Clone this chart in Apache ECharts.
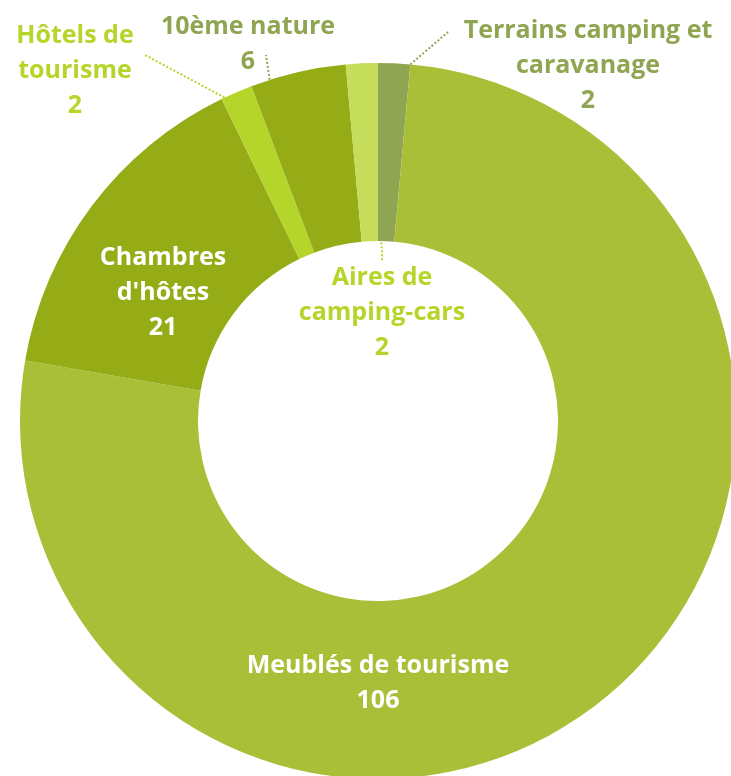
<!DOCTYPE html>
<html lang="fr">
<head>
<meta charset="utf-8" />
<title>Hébergements</title>
<script src="https://cdn.jsdelivr.net/npm/echarts@6/dist/echarts.min.js"></script>
<style>
  html, body { margin: 0; padding: 0; background: #fff; }
  #main { width: 731px; height: 776px; }
</style>
</head>
<body>
<div id="main"></div>
<script>
    // données, dans l'ordre horaire depuis midi
    var categories = ['Terrains camping et\ncaravanage', 'Meublés de tourisme', "Chambres\nd'hôtes", 'Hôtels de\ntourisme', '10ème nature', 'Aires de\ncamping-cars'];
    var values = [2, 106, 21, 2, 6, 2];

    var colors = ['#8fa551', '#a9bf37', '#95ac16', '#b6d52a', '#95ac16', '#c5dd5a'];
    var labelColors = ['#8fa551', '#ffffff', '#ffffff', '#b6d52a', '#8fa551', '#b6d52a'];
    var insideLabel = [false, true, true, false, false, false];

    // géométrie de l'anneau
    var cx = 378, cy = 421, rIn = 180, rOut = 358;

    // placement des étiquettes (centre du bloc de texte) et lignes de rappel
    var labelPos = [[588, 66], [378, 683], [163, 293], [75, 71], [248, 44], [382, 313]];
    var leaderFrom = [1, null, null, 0.1, 0.2, null];   // position le long de l'arc extérieur de la part
    var leaderEnds = [[448, 32], null, null, [145, 55], [266, 55], null];

    var total = values.reduce(function (a, b) { return a + b; }, 0);

    function edgePoint(i, frac) {
        var before = 0;
        for (var k = 0; k < i; k++) before += values[k];
        var a = (before + frac * values[i]) / total * Math.PI * 2;
        return [cx + rOut * Math.sin(a), cy - rOut * Math.cos(a)];
    }

    var myChart = echarts.init(document.getElementById('main'));

    var data = values.map(function (v, i) {
        return {
            name: categories[i],
            value: v,
            itemStyle: { color: colors[i] },
            label: {
                color: labelColors[i],
                position: insideLabel[i] ? 'inside' : 'outside'
            },
            labelLine: {
                show: !insideLabel[i],
                lineStyle: { color: labelColors[i] }
            }
        };
    });

    var option = {
        animation: false,
        series: [{
            type: 'pie',
            silent: true,
            center: [cx, cy],
            radius: [rIn, rOut],
            startAngle: 90,
            clockwise: true,
            avoidLabelOverlap: false,
            itemStyle: { borderWidth: 0 },
            label: {
                formatter: '{b}\n{c}',
                fontFamily: 'Open Sans',
                fontWeight: 'bold',
                fontSize: 25,
                lineHeight: 35,
                align: 'center'
            },
            labelLine: {
                length: 10,
                length2: 10,
                lineStyle: { width: 2, type: 'dotted' }
            },
            labelLayout: function (p) {
                var i = p.dataIndex;
                var res = {
                    x: labelPos[i][0],
                    y: labelPos[i][1],
                    align: 'center',
                    verticalAlign: 'middle'
                };
                if (leaderEnds[i]) {
                    res.labelLinePoints = [edgePoint(i, leaderFrom[i]), leaderEnds[i]];
                }
                return res;
            },
            data: data
        }]
    };

    myChart.setOption(option);
</script>
</body>
</html>
